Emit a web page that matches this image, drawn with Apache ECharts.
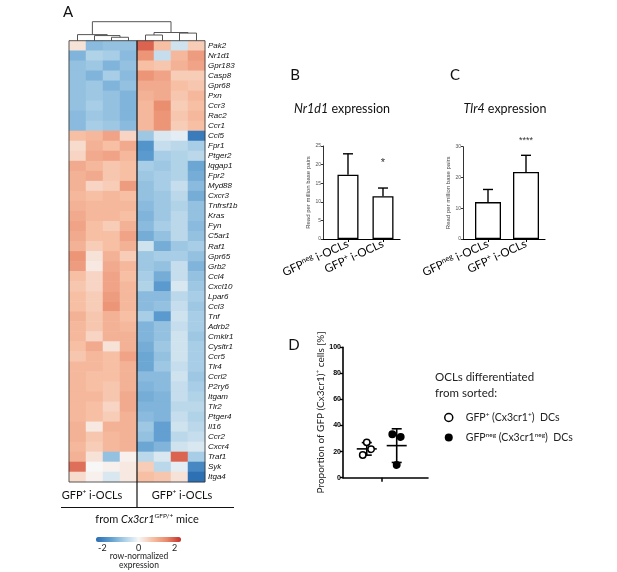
<!DOCTYPE html>
<html>
<head>
<meta charset="utf-8">
<script src="https://cdn.jsdelivr.net/npm/echarts@6/dist/echarts.min.js"></script>
<style>html,body{margin:0;padding:0;background:#fff}#main{width:617px;height:572px}</style>
</head>
<body>
<div id="main"></div>
<script>
// ---- panel A: heatmap data (row z-scores, 8 samples) ----
var genes = ['Pak2','Nr1d1','Gpr183','Casp8','Gpr68','Pxn','Ccr3','Rac2','Ccr1','Ccl5','Fpr1','Ptger2','Iqgap1','Fpr2','Myd88','Cxcr3','Tnfrsf1b','Kras','Fyn','C5ar1','Raf1','Gpr65','Grb2','Ccl4','Cxcl10','Lpar6','Ccl3','Tnf','Adrb2','Cmklr1','Cysltr1','Ccr5','Tlr4','Ccrl2','P2ry6','Itgam','Tlr2','Ptger4','Il16','Ccr2','Cxcr4','Traf1','Syk','Itga4'];
var samples = ['neg1','neg2','neg3','neg4','pos1','pos2','pos3','pos4'];
var zScores = [
  [0.3,-1.1,-1.0,-1.0, 1.9,0.8,-0.4,0.6],
  [-1.2,-0.7,-0.8,-1.1, 1.4,-0.5,0.9,1.3],
  [-1.0,-0.9,-1.2,-1.0, 0.8,0.7,1.0,1.2],
  [-1.0,-1.2,-0.8,-1.1, 1.4,1.2,0.6,0.6],
  [-1.0,-0.9,-1.2,-1.0, 1.1,1.1,0.8,0.7],
  [-1.0,-0.9,-1.0,-1.2, 1.0,1.1,0.7,0.9],
  [-1.0,-0.8,-1.0,-1.2, 0.9,1.5,0.6,0.8],
  [-1.1,-0.9,-1.0,-1.2, 0.9,1.4,0.7,0.9],
  [-1.1,-0.8,-0.9,-1.1, 0.9,1.4,0.6,0.8],
  [0.8,0.9,1.2,0.5, -0.9,-0.3,-0.2,-2.1],
  [0.4,1.0,0.8,1.1, -1.7,-0.5,-0.6,-0.8],
  [0.5,1.1,1.2,0.9, -1.6,-0.8,-0.7,-0.6],
  [1.1,0.9,0.7,0.8, -0.8,-0.9,-0.7,-1.4],
  [1.0,1.1,0.7,0.8, -0.9,-0.8,-0.7,-1.3],
  [1.0,0.5,0.6,1.3, -1.0,-0.8,-0.5,-1.1],
  [0.9,0.8,0.9,0.8, -1.0,-0.9,-0.6,-1.3],
  [1.0,0.9,0.9,0.9, -1.1,-0.9,-0.7,-1.0],
  [1.1,0.9,0.9,0.8, -1.2,-0.9,-0.6,-1.0],
  [1.2,0.8,0.6,1.0, -1.1,-0.8,-0.6,-1.1],
  [1.1,0.8,0.8,1.2, -1.3,-1.0,-0.6,-1.0],
  [1.0,0.6,0.8,1.0, -0.4,-1.3,-0.9,-0.8],
  [1.4,0.3,1.0,0.6, -0.9,-0.8,-0.8,-1.0],
  [1.3,0.2,1.1,0.9, -0.9,-1.0,-0.5,-1.2],
  [0.8,0.5,1.2,0.8, -0.8,-1.3,-0.5,-1.0],
  [0.7,0.5,1.2,0.9, -0.7,-1.6,-0.3,-0.9],
  [0.8,0.6,1.3,0.9, -1.1,-1.1,-0.6,-0.8],
  [0.8,0.6,1.4,0.9, -1.1,-1.0,-0.5,-0.9],
  [1.0,0.7,1.0,0.8, -0.8,-1.6,-0.4,-0.8],
  [0.9,0.7,1.0,0.9, -1.2,-1.0,-0.5,-0.8],
  [0.9,0.5,1.0,1.0, -1.2,-1.0,-0.4,-0.9],
  [0.8,1.1,0.3,1.0, -1.3,-0.9,-0.4,-0.8],
  [0.7,0.9,0.8,1.2, -1.4,-1.0,-0.4,-0.8],
  [0.9,0.9,0.8,1.0, -1.4,-0.9,-0.5,-0.8],
  [0.9,0.8,0.8,1.0, -1.1,-1.1,-0.4,-0.9],
  [0.9,0.8,0.7,1.0, -1.2,-1.1,-0.5,-0.8],
  [0.9,0.9,0.7,1.1, -1.3,-1.2,-0.5,-0.7],
  [0.9,0.8,0.5,1.1, -1.2,-1.2,-0.6,-0.6],
  [0.9,0.8,0.6,1.0, -1.1,-1.2,-0.5,-0.7],
  [1.0,0.2,1.0,1.0, -0.9,-1.5,-0.4,-0.6],
  [1.0,0.7,0.9,1.0, -1.0,-1.5,-0.6,-0.5],
  [0.9,0.6,0.9,1.0, -1.4,-1.2,-0.4,-0.3],
  [1.0,0.3,-1.0,0.1, -0.6,-0.3,1.9,-0.8],
  [1.8,0.0,0.1,0.2, 0.6,-0.6,-0.2,-1.9],
  [0.4,0.1,-0.3,0.2, 0.8,0.7,0.3,-2.3]
];
// column dendrogram: [childA, childB, height]; leaves are 0..7, new nodes 8..
var merges = [[2,3,1.8],[1,8,2.7],[0,9,3.2],[4,5,3.0],[6,7,4.0],[11,12,4.3],[10,13,10]];
var colorTicks = [-2, 0, 2];

// ---- panels B, C: bars (mean + SD) ----
var barCats = ['GFPneg i-OCLs', 'GFP+ i-OCLs'];
var nr1d1Mean = [17.3, 11.5];
var nr1d1Sd = [5.6, 2.2];
var nr1d1Sig = ['', '*'];
var nr1d1SigY = [0, 20.4];
var tlr4Mean = [12.0, 21.8];
var tlr4Sd = [4.1, 5.4];
var tlr4Sig = ['', '****'];
var tlr4SigY = [0, 32];

// ---- panel D: dot plot ----
var dGroupPos = [-0.77, 0.78];
var dOpen = [27.1, 21.8, 17.4];     // GFP+ (Cx3cr1+) DCs
var dFilled = [33.3, 31.2, 9.7];    // GFPneg (Cx3cr1neg) DCs
var dMean = [22.1, 24.6];
var dSd = [4.8, 12.9];
var dLegend = ['GFP+ (Cx3cr1+)  DCs', 'GFPneg (Cx3cr1neg)  DCs'];

var FONT = 'Lato, "Open Sans", sans-serif';
var ARIAL = '"Liberation Sans", Arial, sans-serif';
var SUP = {s: {fontSize: 6.5, padding: [0, 0, 6, 0], fontFamily: FONT}};
var SUP_B = {s: {fontSize: 7.5, padding: [0, 0, 6, 0], fontFamily: FONT, color: '#000'}};

var heatData = [];
zScores.forEach(function (row, r) {
  row.forEach(function (v, c) { heatData.push([c, r, v]); });
});

var nodeX = [0,1,2,3,4,5,6,7], nodeH = [0,0,0,0,0,0,0,0];
var dendroData = merges.map(function (m) {
  var d = [nodeX[m[0]], nodeH[m[0]], nodeX[m[1]], nodeH[m[1]], m[2]];
  nodeX.push((nodeX[m[0]] + nodeX[m[1]]) / 2);
  nodeH.push(m[2]);
  return d;
});

function supFmt(s) {
  return s.replace(/neg/g, '{s|neg}').replace(/\+/g, '{s|+}');
}

var chart = echarts.init(document.getElementById('main'));

function errRender(params, api) {
  var base = api.coord([api.value(0), api.value(1)]);
  var top = api.coord([api.value(0), api.value(1) + api.value(2)]);
  return {type: 'group', children: [
    {type: 'line', shape: {x1: base[0], y1: base[1], x2: top[0], y2: top[1]}, style: {stroke: '#000', lineWidth: 1.4}},
    {type: 'line', shape: {x1: top[0] - 5, y1: top[1], x2: top[0] + 5, y2: top[1]}, style: {stroke: '#000', lineWidth: 1.4}}
  ]};
}

function sigSeries(grid, sig, sigY, size) {
  return {
    type: 'custom', xAxisIndex: grid, yAxisIndex: grid, silent: true,
    data: sig.map(function (s, i) { return [i, sigY[i]]; }),
    renderItem: function (params, api) {
      var txt = sig[params.dataIndex];
      if (!txt) return null;
      var p = api.coord([api.value(0), api.value(1)]);
      return {type: 'text', x: p[0], y: p[1], style: {text: txt, fill: '#333', fontSize: size, fontFamily: ARIAL, align: 'center', verticalAlign: 'middle'}};
    }
  };
}

function barAxes(grid, min, max, ymax, yint) {
  return {
    x: {
      type: 'value', gridIndex: grid, min: min, max: max,
      axisLine: {show: true, onZero: false, lineStyle: {color: '#000', width: 1.2}},
      axisTick: {show: true, customValues: [0, 1], length: 3, lineStyle: {color: '#000'}},
      splitLine: {show: false},
      axisLabel: {
        customValues: [0, 1], rotate: 25, margin: 4, fontSize: 11.5, color: '#000', fontFamily: FONT,
        formatter: function (v) { return supFmt(barCats[Math.round(v)]); },
        rich: SUP_B
      }
    },
    y: {
      type: 'value', gridIndex: grid, min: 0, max: ymax, interval: yint,
      axisLine: {show: true, onZero: false, lineStyle: {color: '#333', width: 1}},
      axisTick: {show: true, length: 2, lineStyle: {color: '#333'}},
      splitLine: {show: false},
      axisLabel: {fontSize: 5, color: '#555', margin: 2, fontFamily: ARIAL},
      name: 'Read per million base pairs', nameLocation: 'middle', nameGap: 9,
      nameTextStyle: {fontSize: 6, color: '#444', fontFamily: ARIAL}
    }
  };
}

var axB = barAxes(1, -0.714, 1.486, 25, 5);
var axC = barAxes(2, -0.658, 1.5, 30, 10);

function pointSeries(name, vals, gi, jitter, filled) {
  return {
    type: 'custom', name: name, xAxisIndex: 4, yAxisIndex: 4,
    data: vals.map(function (v, i) { return [dGroupPos[gi], v, i]; }),
    renderItem: function (params, api) {
      var p = api.coord([api.value(0), api.value(1)]);
      return {type: 'circle', shape: {cx: p[0] + jitter[api.value(2)], cy: p[1], r: 3.2},
        style: {fill: filled ? '#000' : '#fff', stroke: '#000', lineWidth: 1.5}};
    }
  };
}

var option = {
  animation: false,
  textStyle: {fontFamily: FONT},
  grid: [
    {left: 69, top: 40.7, width: 136, height: 441.3},                 // 0 heatmap
    {left: 323, top: 146, width: 77, height: 93},                     // 1 B
    {left: 463, top: 146.7, width: 82, height: 92.3},                 // 2 C
    {left: 69, top: 21.7, width: 136, height: 19},                    // 3 dendrogram
    {left: 343, top: 347.3, width: 85, height: 130.4},                // 4 D
    {left: 96, top: 542, width: 85, height: 1}                        // 5 colour bar ticks
  ],
  xAxis: [
    {type: 'category', gridIndex: 0, data: samples, show: false},
    axB.x, axC.x,
    {type: 'value', gridIndex: 3, min: -0.5, max: 7.5, show: false},
    {type: 'value', gridIndex: 4, min: -2, max: 2.4,
      axisLine: {show: true, onZero: false, lineStyle: {color: '#000', width: 1.6}},
      axisTick: {show: true, customValues: [0], length: 4, lineStyle: {color: '#000', width: 1.5}},
      axisLabel: {show: false}, splitLine: {show: false}},
    {type: 'value', gridIndex: 5, min: -2.35, max: 2.35,
      axisLine: {show: false}, axisTick: {show: false}, splitLine: {show: false},
      axisLabel: {customValues: colorTicks, fontSize: 9, color: '#222', margin: 1, fontFamily: FONT}}
  ],
  yAxis: [
    {type: 'category', gridIndex: 0, data: genes, inverse: true, position: 'right',
      axisLine: {show: false}, axisTick: {show: false},
      axisLabel: {interval: 0, fontStyle: 'italic', fontSize: 8, color: '#111', margin: 3, fontFamily: ARIAL}},
    axB.y, axC.y,
    {type: 'value', gridIndex: 3, min: 0, max: 10, show: false},
    {type: 'value', gridIndex: 4, min: 0, max: 100, interval: 20,
      axisLine: {show: true, onZero: false, lineStyle: {color: '#000', width: 1.6}},
      axisTick: {show: true, length: 3, lineStyle: {color: '#000', width: 1.4}},
      splitLine: {show: false},
      axisLabel: {fontSize: 7, fontWeight: 'bold', color: '#000', margin: 2, fontFamily: ARIAL},
      name: 'Proportion of GFP (Cx3cr1){s|+} cells [%]', nameLocation: 'middle', nameGap: 15,
      nameTextStyle: {fontSize: 10, color: '#222', fontFamily: FONT, rich: SUP}},
    {type: 'value', gridIndex: 5, show: false}
  ],
  visualMap: {
    type: 'continuous', seriesIndex: 0, min: -2.35, max: 2.35, orient: 'horizontal',
    left: 96, top: 537, itemWidth: 5, itemHeight: 85, padding: 0, calculable: false,
    inRange: {color: ['#2a6db1','#5c9ccf','#a9cfe6','#f7f7f7','#f7c0a5','#e9896b','#c5312b']}
  },
  legend: {
    orient: 'vertical', left: 444, top: 411, padding: 0, itemGap: 8, itemWidth: 8, itemHeight: 8,
    data: [
      {name: dLegend[0], icon: 'circle', itemStyle: {color: '#fff', borderColor: '#000', borderWidth: 1.5}},
      {name: dLegend[1], icon: 'circle', itemStyle: {color: '#000'}}
    ],
    formatter: function (n) { return supFmt(n); },
    textStyle: {fontSize: 10.5, color: '#222', fontFamily: FONT, padding: [0, 0, 0, 8], rich: SUP}
  },
  series: [
    {type: 'heatmap', xAxisIndex: 0, yAxisIndex: 0, data: heatData, silent: true, emphasis: {disabled: true}},
    {type: 'custom', xAxisIndex: 3, yAxisIndex: 3, silent: true, data: dendroData,
      renderItem: function (params, api) {
        var a = api.coord([api.value(0), api.value(1)]);
        var at = api.coord([api.value(0), api.value(4)]);
        var bt = api.coord([api.value(2), api.value(4)]);
        var b = api.coord([api.value(2), api.value(3)]);
        return {type: 'polyline', shape: {points: [a, at, bt, b]}, style: {stroke: '#555', fill: null, lineWidth: 1}};
      }},
    // B
    {type: 'bar', xAxisIndex: 1, yAxisIndex: 1, barWidth: 21, silent: true,
      data: nr1d1Mean.map(function (v, i) { return [i, v]; }),
      itemStyle: {color: '#fff', borderColor: '#000', borderWidth: 1.3}},
    {type: 'custom', xAxisIndex: 1, yAxisIndex: 1, silent: true, renderItem: errRender,
      data: nr1d1Mean.map(function (v, i) { return [i, v, nr1d1Sd[i]]; })},
    sigSeries(1, nr1d1Sig, nr1d1SigY, 11),
    // C
    {type: 'bar', xAxisIndex: 2, yAxisIndex: 2, barWidth: 26, silent: true,
      data: tlr4Mean.map(function (v, i) { return [i, v]; }),
      itemStyle: {color: '#fff', borderColor: '#000', borderWidth: 1.3}},
    {type: 'custom', xAxisIndex: 2, yAxisIndex: 2, silent: true, renderItem: errRender,
      data: tlr4Mean.map(function (v, i) { return [i, v, tlr4Sd[i]]; })},
    sigSeries(2, tlr4Sig, tlr4SigY, 9),
    // D mean + SD
    {type: 'custom', xAxisIndex: 4, yAxisIndex: 4, silent: true,
      data: dMean.map(function (v, i) { return [dGroupPos[i], v, dSd[i]]; }),
      renderItem: function (params, api) {
        var x = api.value(0), m = api.value(1), s = api.value(2);
        var c = api.coord([x, m]), lo = api.coord([x, m - s]), hi = api.coord([x, m + s]);
        var st = {stroke: '#000', lineWidth: 1.6};
        return {type: 'group', children: [
          {type: 'line', shape: {x1: c[0] - 10, y1: c[1], x2: c[0] + 10, y2: c[1]}, style: st},
          {type: 'line', shape: {x1: lo[0], y1: lo[1], x2: hi[0], y2: hi[1]}, style: st},
          {type: 'line', shape: {x1: hi[0] - 5, y1: hi[1], x2: hi[0] + 5, y2: hi[1]}, style: st},
          {type: 'line', shape: {x1: lo[0] - 5, y1: lo[1], x2: lo[0] + 5, y2: lo[1]}, style: st}
        ]};
      }},
    pointSeries(dLegend[0], dOpen, 0, [0, 4.3, -4], false),
    pointSeries(dLegend[1], dFilled, 1, [-4.4, 4, 0], true)
  ],
  graphic: [
    // heatmap frame and group separators
    {type: 'rect', shape: {x: 69, y: 40.7, width: 136, height: 441.3}, style: {fill: null, stroke: '#333', lineWidth: 0.8}, z: 10},
    {type: 'line', shape: {x1: 137, y1: 40.7, x2: 137, y2: 507.5}, style: {stroke: '#111', lineWidth: 1.2}, z: 10},
    {type: 'line', shape: {x1: 61, y1: 507.5, x2: 234, y2: 507.5}, style: {stroke: '#111', lineWidth: 1.2}, z: 10},
    {type: 'text', x: 92, y: 495, style: {text: 'GFP{s|+} i-OCLs', fontSize: 11, fontFamily: FONT, fill: '#111', align: 'center', verticalAlign: 'middle', rich: SUP}},
    {type: 'text', x: 182, y: 495, style: {text: 'GFP{s|+} i-OCLs', fontSize: 11, fontFamily: FONT, fill: '#111', align: 'center', verticalAlign: 'middle', rich: SUP}},
    {type: 'text', x: 147, y: 519, style: {text: 'from {i|Cx3cr1}{s|GFP/+} mice', fontSize: 11, fontFamily: FONT, fill: '#111', align: 'center', verticalAlign: 'middle',
      rich: {i: {fontStyle: 'italic', fontSize: 11, fontFamily: FONT}, s: SUP.s}}},
    {type: 'text', x: 139, y: 556, style: {text: 'row-normalized', fontSize: 8.5, fontFamily: FONT, fill: '#222', align: 'center', verticalAlign: 'middle'}},
    {type: 'text', x: 139, y: 565, style: {text: 'expression', fontSize: 8.5, fontFamily: FONT, fill: '#222', align: 'center', verticalAlign: 'middle'}},
    // panel letters and titles
    {type: 'text', x: 68, y: 12, style: {text: 'A', fontSize: 15, fontFamily: FONT, fill: '#111', align: 'center', verticalAlign: 'middle'}},
    {type: 'text', x: 295, y: 75, style: {text: 'B', fontSize: 15, fontFamily: FONT, fill: '#111', align: 'center', verticalAlign: 'middle'}},
    {type: 'text', x: 455, y: 75, style: {text: 'C', fontSize: 15, fontFamily: FONT, fill: '#111', align: 'center', verticalAlign: 'middle'}},
    {type: 'text', x: 294, y: 345, style: {text: 'D', fontSize: 15, fontFamily: FONT, fill: '#111', align: 'center', verticalAlign: 'middle'}},
    {type: 'text', x: 342, y: 109, style: {text: '{i|Nr1d1} expression', fontSize: 12.5, fontFamily: FONT, fill: '#111', align: 'center', verticalAlign: 'middle',
      rich: {i: {fontStyle: 'italic', fontSize: 12.5, fontFamily: FONT}}}},
    {type: 'text', x: 505, y: 109, style: {text: '{i|Tlr4} expression', fontSize: 12.5, fontFamily: FONT, fill: '#111', align: 'center', verticalAlign: 'middle',
      rich: {i: {fontStyle: 'italic', fontSize: 12.5, fontFamily: FONT}}}},
    {type: 'text', x: 435, y: 377, style: {text: 'OCLs differentiated', fontSize: 11.5, fontFamily: FONT, fill: '#222', align: 'left', verticalAlign: 'middle'}},
    {type: 'text', x: 435, y: 393, style: {text: 'from sorted:', fontSize: 11.5, fontFamily: FONT, fill: '#222', align: 'left', verticalAlign: 'middle'}}
  ]
};
chart.setOption(option);
</script>
</body>
</html>
